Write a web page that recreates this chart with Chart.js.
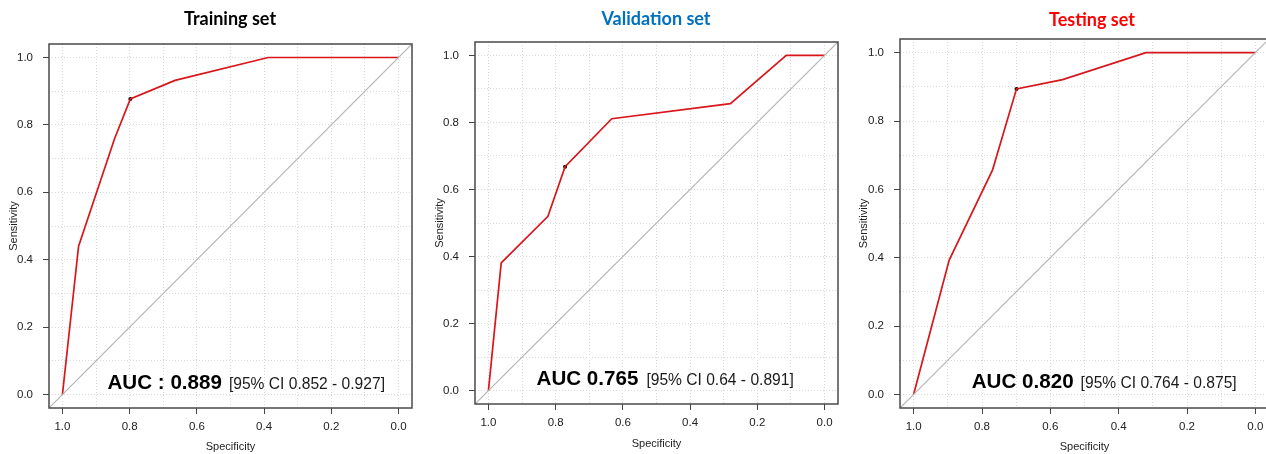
<!DOCTYPE html>
<html>
<head>
<meta charset="utf-8">
<script src="https://cdn.jsdelivr.net/npm/chart.js@4.4.1/dist/chart.umd.min.js"></script>
<style>
html,body{margin:0;padding:0;background:#fff;overflow:hidden;width:1266px;height:454px;position:relative}
canvas{position:absolute;top:0}
</style>
</head>
<body>
<canvas id="c1" width="422" height="454" style="left:0px"></canvas>
<canvas id="c2" width="422" height="454" style="left:424px"></canvas>
<canvas id="c3" width="430" height="454" style="left:848px"></canvas>
<script>
// ---- data ----
const titles = ['Training set', 'Validation set', 'Testing set'];

const trainSpec = [1.0, 0.952, 0.845, 0.798, 0.665, 0.388, 0.0];
const trainSens = [0.0, 0.440, 0.759, 0.877, 0.932, 1.0, 1.0];
const trainThreshold = [0.798, 0.877];

const valSpec = [1.0, 0.962, 0.823, 0.772, 0.633, 0.280, 0.114, 0.0];
const valSens = [0.0, 0.381, 0.520, 0.668, 0.811, 0.856, 1.0, 1.0];
const valThreshold = [0.772, 0.668];

const testSpec = [1.0, 0.896, 0.769, 0.699, 0.564, 0.320, 0.0];
const testSens = [0.0, 0.393, 0.657, 0.894, 0.921, 1.0, 1.0];
const testThreshold = [0.699, 0.894];

const aucBold = ['AUC : 0.889', 'AUC 0.765', 'AUC 0.820'];
const aucCI = ['[95% CI 0.852 - 0.927]', '[95% CI 0.64 - 0.891]', '[95% CI 0.764 - 0.875]'];

const tickValues = [0, 0.1, 0.2, 0.3, 0.4, 0.5, 0.6, 0.7, 0.8, 0.9, 1.0];
const tickLabels = ['0.0', '', '0.2', '', '0.4', '', '0.6', '', '0.8', '', '1.0'];
const axisMin = -0.04, axisMax = 1.04;

// ---- drawing ----
const SANS = '"Liberation Sans", Arial, Helvetica, sans-serif';

const decor = {
  id: 'panelDecor',
  afterDatasetsDraw(chart, args, o) {
    const {ctx, chartArea: a, scales} = chart;
    ctx.save();
    // full box frame
    ctx.strokeStyle = '#4a4a4a';
    ctx.lineWidth = 1.5;
    ctx.strokeRect(a.left, a.top, a.right - a.left, a.bottom - a.top);
    // AUC label
    const x0 = scales.x.getPixelForValue(o.aucX);
    const y0 = scales.y.getPixelForValue(o.aucY);
    ctx.textBaseline = 'alphabetic';
    ctx.textAlign = 'left';
    ctx.fillStyle = '#000';
    ctx.font = 'bold 20.6px ' + SANS;
    ctx.fillText(o.bold, x0, y0);
    const w = ctx.measureText(o.bold).width;
    ctx.fillStyle = '#1a1a1a';
    ctx.font = '15.6px ' + SANS;
    ctx.fillText(o.ci, x0 + w + o.gap, y0);
    // panel title
    ctx.textAlign = 'center';
    ctx.fillStyle = o.titleColor;
    ctx.font = 'bold 18px Lato, "Open Sans", sans-serif';
    ctx.fillText(o.title, o.titleX, o.titleY);
    ctx.restore();
  }
};

function pts(xs, ys) { return xs.map((x, i) => ({x: x, y: ys[i]})); }

function makeChart(id, p) {
  const canvas = document.getElementById(id);
  const W = canvas.width, H = canvas.height;
  const axisFont = {family: SANS, size: 11.5};
  const gridBase = {
    color: '#d9d9d9',
    lineWidth: 1,
    borderDash: [1, 2],
    drawTicks: true,
    tickLength: 6,
    tickWidth: 1,
    tickBorderDash: [],
    tickColor: c => (Math.round(c.tick.value * 10) % 2 === 0) ? '#444' : 'rgba(0,0,0,0)'
  };
  return new Chart(canvas, {
    type: 'scatter',
    data: {
      datasets: [
        {data: [{x: axisMax, y: axisMin}, {x: axisMin, y: axisMax}], showLine: true,
         borderColor: '#b4b4b4', borderWidth: 1.2, pointRadius: 0},
        {data: pts(p.spec, p.sens), showLine: true, borderColor: '#d8161b',
         borderWidth: 1.7, pointRadius: 0, tension: 0},
        {data: [{x: p.thr[0], y: p.thr[1]}], showLine: false, pointRadius: 2,
         backgroundColor: '#000', borderColor: '#000', borderWidth: 0}
      ]
    },
    options: {
      responsive: false,
      animation: false,
      events: [],
      layout: {padding: {top: p.top, right: W - p.right, left: 0, bottom: 0}},
      plugins: {
        legend: {display: false},
        tooltip: {enabled: false},
        title: {display: false},
        panelDecor: {
          title: p.title, titleColor: p.titleColor, titleX: p.titleX, titleY: p.titleY,
          bold: p.bold, ci: p.ci, aucX: p.aucX, aucY: p.aucY, gap: p.gap
        }
      },
      scales: {
        x: {
          type: 'linear', position: 'bottom', reverse: true, min: axisMin, max: axisMax,
          afterFit: s => { s.height = H - p.bottom; },
          afterBuildTicks: s => { s.ticks = tickValues.map(v => ({value: v})); },
          ticks: {autoSkip: false, maxRotation: 0, minRotation: 0, padding: 6, color: '#222',
                  font: axisFont, callback: (v, i) => tickLabels[i]},
          grid: gridBase,
          border: {display: false, dash: [1, 2]},
          title: {display: true, text: 'Specificity', color: '#222',
                  font: {family: SANS, size: 11}, padding: {top: 0, bottom: p.xTitlePad}}
        },
        y: {
          type: 'linear', position: 'left', min: axisMin, max: axisMax,
          afterFit: s => { s.width = p.left; },
          afterBuildTicks: s => { s.ticks = tickValues.map(v => ({value: v})); },
          ticks: {autoSkip: false, padding: 10, color: '#222',
                  font: axisFont, callback: (v, i) => tickLabels[i]},
          grid: gridBase,
          border: {display: false, dash: [1, 2]},
          title: {display: true, text: 'Sensitivity', color: '#222',
                  font: {family: SANS, size: 11}, padding: {top: p.yTitlePad, bottom: 0}}
        }
      }
    },
    plugins: [decor]
  });
}

makeChart('c1', {
  spec: trainSpec, sens: trainSens, thr: trainThreshold,
  title: titles[0], titleColor: '#000000', titleX: 230, titleY: 25,
  bold: aucBold[0], ci: aucCI[0], aucX: 0.866, aucY: 0.015, gap: 7,
  left: 49, right: 412, top: 44, bottom: 408, xTitlePad: 0.7, yTitlePad: 7
});
makeChart('c2', {
  spec: valSpec, sens: valSens, thr: valThreshold,
  title: titles[1], titleColor: '#0070c0', titleX: 232, titleY: 25,
  bold: aucBold[1], ci: aucCI[1], aucX: 0.857, aucY: 0.018, gap: 8,
  left: 51, right: 414, top: 42, bottom: 404, xTitlePad: 3.4, yTitlePad: 9
});
makeChart('c3', {
  spec: testSpec, sens: testSens, thr: testThreshold,
  title: titles[2], titleColor: '#ff0000', titleX: 244, titleY: 26,
  bold: aucBold[2], ci: aucCI[2], aucX: 0.83, aucY: 0.018, gap: 7,
  left: 52, right: 421, top: 39, bottom: 408, xTitlePad: 0.7, yTitlePad: 9
});
</script>
</body>
</html>
